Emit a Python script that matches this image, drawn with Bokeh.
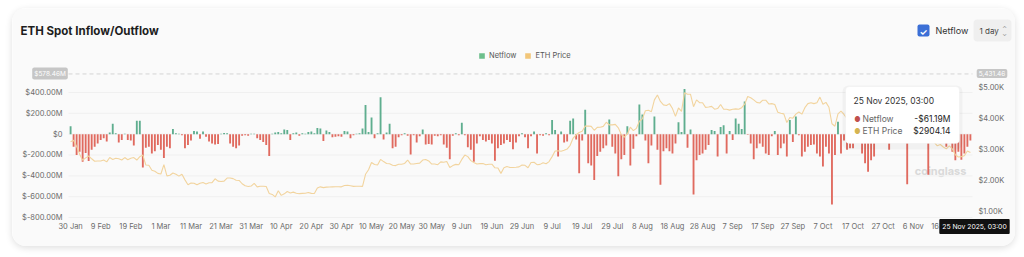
from bokeh.plotting import figure
from bokeh.models import (ColumnDataSource, Range1d, LinearAxis, FixedTicker,
                          Label, BoxAnnotation, Legend, LegendItem)
from bokeh.embed import file_html
from bokeh.resources import INLINE

# ---------------- data ----------------
# daily netflow, $M, 30 Jan 2025 .. 25 Nov 2025
netflow = [
    76, -120, -200, -170, -265, -180, -257, -150, -120, -90,
    -55, -40, -70, 15, 100, 10, -80, -55, 5, -55,
    -60, -110, 130, 130, -320, -130, -120, -185, -165, -105,
    -150, -230, -120, -135, 50, 10, 5, -10, -135, -105,
    -60, 30, 25, -45, 25, -25, -70, -90, -100, -95,
    5, 12, 8, -90, -120, -135, -110, -15, -10, -15,
    5, 5, -40, -55, -75, -105, -210, 5, 15, 20,
    10, 45, 40, -55, 10, 15, -15, 10, 5, 20,
    25, 10, 60, 55, -65, 35, 20, -30, -25, -20,
    -25, 30, 25, -40, -10, 5, 10, 55, 280, 20,
    160, -40, 10, 355, -50, 15, 100, -135, -120, -30,
    -10, 10, -15, -195, -10, -80, -20, 45, -100, -95,
    -100, -15, -20, -10, -100, -130, -240, -15, 10, -10,
    110, -10, -125, -150, -265, -90, -20, -55, -70, -55,
    -90, -255, -135, -105, -90, -55, -75, -145, -80, -20,
    10, -30, -135, -20, 25, -185, -10, -15, 8, -10,
    135, 40, -215, 25, -80, -70, 130, 150, -50, -375,
    -60, 235, -280, -300, -440, -210, -170, -135, -110, 140,
    -120, -185, -405, -240, -200, 75, -300, -140, -20, 285,
    190, -60, -280, -110, 170, -150, -485, -165, -135, -165,
    -185, -90, 115, 20, 435, -130, 45, -580, -250, -200,
    -185, -150, -105, 40, 30, -215, 70, 85, -185, 30,
    -55, 150, 100, 50, 315, -5, -90, -240, -135, -90,
    -120, -185, -200, -20, 30, -200, -135, -90, -215, 135,
    -75, 170, -10, -215, -170, -120, -105, -100, -185, -215,
    -310, -120, -185, -675, -200, 120, -185, -60, -150, -135,
    -135, -40, -60, -185, -280, -360, -250, -215, -30, -20,
    -15, -40, -150, -30, -10, -20, -15, -40, -480, -30,
    -20, -10, -15, -25, -30, -390, -20, -10, 10, -15,
    -40, -120, -80, -170, -250, -170, -245, -185, -120, -61.19,
]

# daily ETH price, $
eth_price = [
    3250, 3300,
    3100, 2850, 2650, 2730, 2790, 2700, 2620, 2630, 2630, 2660, 2600, 2740, 2680, 2720,
    2700, 2660, 2740, 2670, 2720, 2740, 2660, 2770, 2820, 2500, 2490, 2330, 2300, 2230,
    2210, 2510, 2150, 2170, 2240, 2200, 2140, 2200, 2020, 1865, 1920, 1910, 1860, 1910,
    1935, 1890, 1925, 1930, 2055, 1980, 1965, 1980, 2080, 2080, 2060, 2010, 2000, 1895,
    1830, 1805, 1820,
    1905, 1795, 1815, 1815, 1805, 1580, 1550, 1470, 1670, 1520, 1570, 1645, 1595, 1625,
    1590, 1575, 1585, 1590, 1615, 1585, 1580, 1755, 1795, 1770, 1785, 1790, 1795, 1800,
    1800, 1795,
    1840, 1845, 1830, 1810, 1815, 1815, 1810, 2200, 2345, 2580, 2515, 2500, 2680, 2610,
    2550, 2540, 2490, 2480, 2525, 2525, 2550, 2660, 2530, 2530, 2550, 2560, 2660, 2680,
    2630, 2530, 2530,
    2510, 2600, 2590, 2610, 2420, 2480, 2520, 2510, 2680, 2820, 2770, 2640, 2580, 2530,
    2545, 2550, 2510, 2525, 2525, 2410, 2405, 2230, 2410, 2450, 2420, 2420, 2425, 2440,
    2500, 2490,
    2410, 2580, 2590, 2510, 2520, 2570, 2540, 2610, 2770, 2950, 2960, 2945, 2975, 3015,
    3135, 3370, 3475, 3550, 3590, 3755, 3760, 3745, 3620, 3715, 3720, 3745, 3880, 3795,
    3795, 3810, 3700,
    3480, 3395, 3500, 3720, 3610, 3680, 3910, 3990, 4250, 4265, 4220, 4600, 4760, 4550,
    4440, 4420, 4480, 4320, 4070, 4340, 4230, 4830, 4780, 4780, 4380, 4600, 4510, 4510,
    4360, 4370, 4390,
    4300, 4320, 4450, 4300, 4300, 4270, 4300, 4310, 4300, 4350, 4460, 4710, 4670, 4600,
    4520, 4500, 4590, 4590, 4470, 4480, 4450, 4200, 4170, 4150, 3870, 4030, 4010, 4140,
    4210, 4140,
    4350, 4480, 4510, 4480, 4510, 4690, 4460, 4520, 4360, 3830, 3750, 4150, 4240, 4130,
    3990, 3890, 3850, 3890, 3980, 3980, 3880, 3800, 3850, 3930, 3950, 4150, 4120, 3980,
    3900, 3800, 3850,
    3880, 3900, 3600, 3290, 3420, 3310, 3430, 3400, 3580, 3560, 3420, 3400, 3230, 3120,
    3160, 3080, 3020, 3120, 3020, 2830, 2760, 2770, 2800, 2950, 2904.14,
]

x_tick_days = list(range(0, 300, 10))
x_tick_labels = ["30 Jan", "9 Feb", "19 Feb", "1 Mar", "11 Mar", "21 Mar", "31 Mar",
                 "10 Apr", "20 Apr", "30 Apr", "10 May", "20 May", "30 May", "9 Jun",
                 "19 Jun", "29 Jun", "9 Jul", "19 Jul", "29 Jul", "8 Aug", "18 Aug",
                 "28 Aug", "7 Sep", "17 Sep", "27 Sep", "7 Oct", "17 Oct", "27 Oct",
                 "6 Nov", "16 Nov"]
left_ticks = [-800, -600, -400, -200, 0, 200, 400]
left_labels = ["$-800.00M", "$-600.00M", "$-400.00M", "$-200.00M", "$0", "$200.00M", "$400.00M"]
right_ticks = [1000, 2000, 3000, 4000, 5000]
right_labels = ["$1.00K", "$2.00K", "$3.00K", "$4.00K", "$5.00K"]

# ---------------- style / geometry ----------------
FONT = "Inter"
CARD = "#fafafa"
GREEN = "#5fae8f"
RED = "#e06a5f"
PRICE = "#f2d49e"
AXIS_TXT = "#6a6a6a"

OX, OY = 12, 8                              # card offset on the page
W, H = 1003, 238                            # card size
FL, FR, FT, FB = 68, 972, 71, 218          # inner plot area, page pixels
XI = (-0.7, 299.7)                          # day range over inner area
YI = (-810.0, 602.0)                        # netflow $M over inner area
PI = (774.0, 5516.0)                        # price over inner area


def X(px):
    return XI[0] + (px - FL) * (XI[1] - XI[0]) / (FR - FL)


def Y(py):
    return YI[1] - (py - FT) * (YI[1] - YI[0]) / (FB - FT)


def P(py):
    return PI[1] - (py - FT) * (PI[1] - PI[0]) / (FB - FT)


days = list(range(len(netflow)))
colors = [GREEN if v >= 0 else RED for v in netflow]
src = ColumnDataSource(dict(day=days, netflow=netflow, color=colors, price=eth_price))

p = figure(width=W, height=H, output_backend="svg", toolbar_location=None, title=None,
           x_range=Range1d(X(OX), X(OX + W)), y_range=Range1d(Y(OY + H), Y(OY)),
           min_border=0, min_border_left=0, min_border_right=0,
           min_border_top=0, min_border_bottom=0,
           background_fill_color=CARD, border_fill_color=CARD,
           outline_line_color=None, x_axis_type=None, y_axis_type=None)
p.styles = {"margin-left": f"{OX}px", "margin-top": f"{OY}px", "border-radius": "14px",
            "overflow": "hidden", "box-shadow": "0 2px 7px rgba(0,0,0,0.13)"}
p.extra_y_ranges = {"price": Range1d(P(OY + H), P(OY))}
p.xgrid.visible = False
p.ygrid.visible = False

# watermark
p.add_layout(Label(x=X(940), y=Y(170), text="coinglass", text_font=FONT,
                   text_font_size="11px", text_font_style="bold", text_color="#d9d9d9",
                   text_align="center", text_baseline="middle", level="underlay"))

# faint horizontal grid inside the plot area
p.segment(x0=[XI[0]] * len(left_ticks), x1=[XI[1]] * len(left_ticks),
          y0=left_ticks, y1=left_ticks, line_color="#f0f0f0", line_width=1)

p.vbar(x="day", top="netflow", bottom=0, width=0.62, fill_color="color",
       line_color=None, source=src)
p.line(x="day", y="price", y_range_name="price", line_color=PRICE, line_width=1.1,
       source=src)

# axes (fixed at the edges of the inner area)
lax = LinearAxis(ticker=FixedTicker(ticks=left_ticks), fixed_location=XI[0],
                 major_label_overrides={t: s for t, s in zip(left_ticks, left_labels)})
rax = LinearAxis(y_range_name="price", ticker=FixedTicker(ticks=right_ticks),
                 fixed_location=XI[1],
                 major_label_overrides={t: s for t, s in zip(right_ticks, right_labels)})
bax = LinearAxis(ticker=FixedTicker(ticks=x_tick_days), fixed_location=YI[0],
                 major_label_overrides={t: s for t, s in zip(x_tick_days, x_tick_labels)})
p.add_layout(lax, "left")
p.add_layout(rax, "right")
p.add_layout(bax, "below")
for ax in [lax, rax, bax]:
    ax.axis_line_color = None
    ax.major_tick_line_color = None
    ax.minor_tick_line_color = None
    ax.major_tick_out = 0
    ax.major_tick_in = 0
    ax.major_label_text_font = FONT
    ax.major_label_text_font_size = "7.5px"
    ax.major_label_text_color = AXIS_TXT
lax.major_label_standoff = 6
rax.major_label_standoff = 6
bax.major_label_standoff = 3

# legend: zero-size rects on the last data point, only used for their legend glyphs
last = dict(day=[days[-1]], netflow=[netflow[-1]], price=[eth_price[-1]])
lg = p.rect(x="day", y="netflow", width=0, height=0, fill_color="#6dbf8c",
            line_color=None, source=ColumnDataSource(last))
lo = p.rect(x="day", y="price", width=0, height=0, fill_color="#f2c679",
            line_color=None, y_range_name="price", source=ColumnDataSource(last))
legend = Legend(items=[LegendItem(label="Netflow", renderers=[lg]),
                       LegendItem(label="ETH Price", renderers=[lo])],
                orientation="horizontal", location=(478 - OX, OY + H - 60),
                background_fill_alpha=0, border_line_color=None, padding=0, margin=0,
                glyph_width=7, glyph_height=7, label_height=8, label_standoff=4,
                spacing=8, label_text_font=FONT, label_text_font_size="7.5px",
                label_text_color="#555555")
p.add_layout(legend)

# crosshair line
p.segment(x0=[XI[0]], x1=[XI[1]], y0=[578.46], y1=[578.46], line_color="#d4d4d4",
          line_dash="4 3", line_width=1)


def lab(px, py, text, size, color, align="left", bold=False, **kw):
    p.add_layout(Label(x=X(px), y=Y(py), text=text, text_font=FONT,
                       text_font_size=f"{size}px", text_color=color, text_align=align,
                       text_baseline="middle",
                       text_font_style="bold" if bold else "normal", **kw))


def box(l, r, t, b, color, alpha=1.0, line=None, radius=0):
    p.add_layout(BoxAnnotation(left=X(l), right=X(r), top=Y(t), bottom=Y(b),
                               fill_color=color, fill_alpha=alpha, line_color=line,
                               border_radius=radius))


lab(49.5, 73, "$578.46M", 6.5, "white", align="center",
    background_fill_color="#c6c6c6", padding=2, border_radius=2)
lab(991.5, 73, "5,431.46", 6.5, "white", align="center",
    background_fill_color="#c6c6c6", padding=2, border_radius=2)

# header
lab(20, 30, "ETH Spot Inflow/Outflow", 11.5, "#1d1d1d", bold=True)
box(917, 929, 24, 36, "#3b6fd6", radius=2)
lab(923, 30.5, "✓", 9, "white", align="center", bold=True)
lab(935, 30, "Netflow", 9, "#333333")
box(973, 1011, 19, 41, "#efefef", radius=4)
lab(979, 30, "1 day", 8, "#444444")
lab(1004, 27.5, "⌃", 6, "#888888", align="center")
lab(1004, 32.5, "⌄", 6, "#888888", align="center")

# tooltip
box(842, 962, 85, 149, "#000000", alpha=0.035, radius=6)
box(845, 959, 86, 143, "#ffffff", line="#e8e8e8", radius=4)
lab(853, 100, "25 Nov 2025, 03:00", 8.5, "#333333")
lab(857, 118.5, "●", 7, "#c0504d", align="center")
lab(862, 118.5, "Netflow", 8.5, "#666666")
lab(950, 118.5, "-$61.19M", 8.5, "#222222", align="right")
lab(857, 130.5, "●", 7, "#d5b452", align="center")
lab(862, 130.5, "ETH Price", 8.5, "#666666")
lab(950, 130.5, "$2904.14", 8.5, "#222222", align="right")

# x pointer label
p.add_layout(Label(x=X(974), y=Y(226), text="25 Nov 2025, 03:00", text_font=FONT,
                   text_font_size="6.8px", text_color="white", text_align="center",
                   text_baseline="middle", background_fill_color="#111111",
                   padding=3, border_radius=1))

open("out.html", "w").write(file_html(p, INLINE))
